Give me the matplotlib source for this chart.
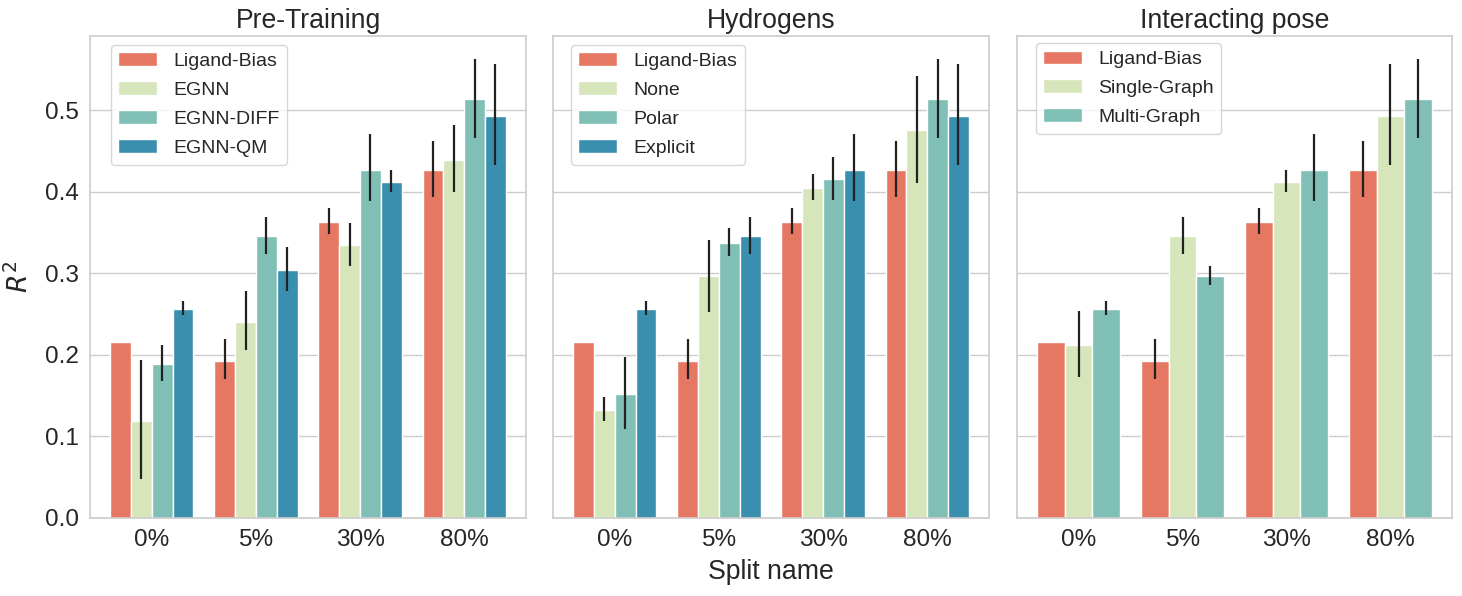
import matplotlib
matplotlib.use("Agg")
import matplotlib.pyplot as plt
import numpy as np

plt.rcParams['font.family'] = ['Liberation Sans', 'DejaVu Sans']

splits = ["0%", "5%", "30%", "80%"]

# Panel 1: Pre-Training
pt_names = ["Ligand-Bias", "EGNN", "EGNN-DIFF", "EGNN-QM"]
pt_vals = [
    [0.216, 0.193, 0.363, 0.427],
    [0.119, 0.240, 0.335, 0.439],
    [0.189, 0.345, 0.427, 0.513],
    [0.256, 0.304, 0.412, 0.493],
]
pt_lo = [
    [None, 0.170, 0.348, 0.394],
    [0.048, 0.206, 0.309, 0.399],
    [0.168, 0.323, 0.388, 0.466],
    [0.249, 0.278, 0.400, 0.433],
]
pt_hi = [
    [None, 0.219, 0.380, 0.462],
    [0.194, 0.278, 0.362, 0.482],
    [0.212, 0.369, 0.470, 0.562],
    [0.266, 0.332, 0.427, 0.556],
]

# Panel 2: Hydrogens
hy_names = ["Ligand-Bias", "None", "Polar", "Explicit"]
hy_vals = [
    [0.216, 0.193, 0.363, 0.427],
    [0.132, 0.296, 0.405, 0.475],
    [0.152, 0.337, 0.415, 0.513],
    [0.256, 0.345, 0.427, 0.493],
]
hy_lo = [
    [None, 0.170, 0.348, 0.394],
    [0.119, 0.253, 0.390, 0.410],
    [0.109, 0.321, 0.390, 0.466],
    [0.249, 0.323, 0.388, 0.433],
]
hy_hi = [
    [None, 0.219, 0.380, 0.462],
    [0.148, 0.341, 0.422, 0.542],
    [0.197, 0.356, 0.442, 0.562],
    [0.266, 0.369, 0.470, 0.556],
]

# Panel 3: Interacting pose
ip_names = ["Ligand-Bias", "Single-Graph", "Multi-Graph"]
ip_vals = [
    [0.216, 0.193, 0.363, 0.427],
    [0.212, 0.345, 0.412, 0.493],
    [0.256, 0.297, 0.427, 0.513],
]
ip_lo = [
    [None, 0.170, 0.348, 0.394],
    [0.173, 0.323, 0.400, 0.433],
    [0.249, 0.286, 0.388, 0.466],
]
ip_hi = [
    [None, 0.219, 0.380, 0.462],
    [0.254, 0.369, 0.427, 0.556],
    [0.266, 0.309, 0.470, 0.562],
]

titles = ["Pre-Training", "Hydrogens", "Interacting pose"]
colors = ["#E67762", "#D6E6BA", "#80BFB5", "#3A8FAF"]
text_color = "#262626"
grid_color = "#cccccc"

W, H = 1462, 596
fig = plt.figure(figsize=(W / 100, H / 100), dpi=100)

axes_px = [(90, 436), (553, 436), (1017, 435)]
bottom_px, top_px = 518, 36
legend_anchor = [(0.0475, 0.982), (0.0406, 0.982), (0.043, 0.986)]

panels = [
    (pt_names, pt_vals, pt_lo, pt_hi),
    (hy_names, hy_vals, hy_lo, hy_hi),
    (ip_names, ip_vals, ip_lo, ip_hi),
]

x = np.arange(len(splits))
for i, ((left, width), (names, vals, lo, hi)) in enumerate(zip(axes_px, panels)):
    ax = fig.add_axes([left / W, 1 - bottom_px / H, width / W, (bottom_px - top_px) / H])
    n = len(names)
    bw = 0.8 / n
    for j in range(n):
        pos = x - 0.4 + bw * (j + 0.5)
        ax.bar(pos, vals[j], width=bw, color=colors[j], edgecolor="white",
               linewidth=1.0, label=names[j], zorder=2)
        for k in range(len(splits)):
            if lo[j][k] is not None:
                ax.plot([pos[k], pos[k]], [lo[j][k], hi[j][k]], color="#222222",
                        lw=1.6, solid_capstyle="butt", zorder=3)
    ax.set_xlim(-0.593, 3.593)
    ax.set_ylim(0, 0.5907)
    ax.set_xticks(x)
    ax.set_xticklabels(splits)
    ax.set_yticks([0.0, 0.1, 0.2, 0.3, 0.4, 0.5])
    ax.set_yticklabels(["0.0", "0.1", "0.2", "0.3", "0.4", "0.5"])
    ax.tick_params(axis="both", length=0, labelsize=17.6, colors=text_color, pad=8)
    if i > 0:
        ax.tick_params(axis="y", labelleft=False)
    ax.grid(axis="y", color=grid_color, lw=1.0, zorder=0)
    ax.set_axisbelow(True)
    for sp in ax.spines.values():
        sp.set_color(grid_color)
        sp.set_linewidth(1.2)
    ax.set_title(titles[i], fontsize=19.2, color=text_color, pad=6)
    if i == 0:
        ax.set_ylabel("$R^2$", fontsize=19.2, color=text_color, labelpad=8)
    if i == 1:
        ax.set_xlabel("Split name", fontsize=19.2, color=text_color, labelpad=6)
    leg = ax.legend(loc="upper left", bbox_to_anchor=legend_anchor[i], borderaxespad=0,
                    fontsize=14, frameon=True, fancybox=True, edgecolor=grid_color,
                    labelspacing=0.58)
    for t in leg.get_texts():
        t.set_color(text_color)

fig.savefig("out.png", dpi=100)
